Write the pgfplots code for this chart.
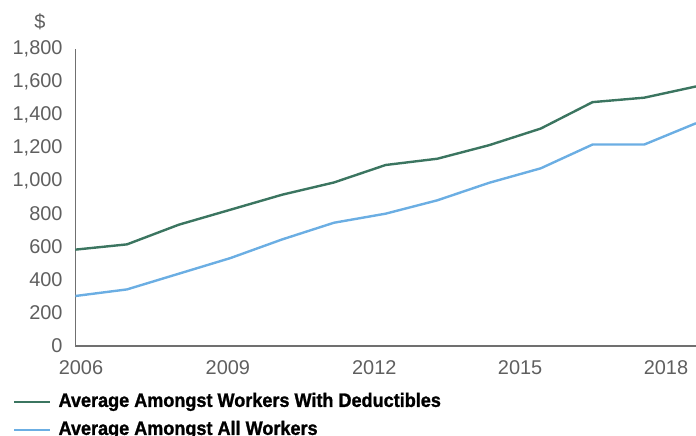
\documentclass[border=0pt]{standalone}
\usepackage{fontspec}
\setmainfont{Liberation Sans}
\newfontface\legfont[FakeStretch=0.93, FakeBold=1.2]{Liberation Sans Bold}
\usepackage{pgfplots}
\pgfplotsset{compat=1.18}
\definecolor{tickgray}{HTML}{5F5F5F}
\definecolor{axgray}{HTML}{707070}
\definecolor{dgreen}{HTML}{3B7560}
\definecolor{lblue}{HTML}{6BAEE3}
\begin{document}
\begin{tikzpicture}
\begin{axis}[
  name=ax,
  scale only axis,
  width=620.7bp, height=297bp,
  xmin=0, xmax=12, ymin=0, ymax=1800,
  axis x line*=bottom, axis y line*=left,
  axis line style={draw=axgray, line width=1.2bp},
  ytick={0,200,400,600,800,1000,1200,1400,1600,1800},
  xtick={0.11,2.95,5.78,8.6,11.42},
  xticklabels={2006,2009,2012,2015,2018},
  major tick length=0pt,
  tick label style={font=\fontsize{20}{24}\selectfont, text=tickgray},
  /pgf/number format/assume math mode=true,
  /pgf/number format/1000 sep={,},
  scaled y ticks=false,
  yticklabel style={inner sep=0pt, anchor=east, xshift=-12.6bp},
  xticklabel style={inner sep=0pt, anchor=north, yshift=-14bp},
  legend style={at={(0,0)}, anchor=north west, xshift=-62.3bp, yshift=-46.7bp,
    draw=none, fill=none, inner sep=0pt,
    nodes={inner sep=0pt, text height=14bp, text depth=4bp},
    font=\legfont\fontsize{19.5}{22}\selectfont,
    row sep=10bp, column sep=7bp},
  legend cell align=left,
  legend image code/.code={\draw[#1] (0bp,0bp) -- (36bp,0bp);},
]
\addplot[dgreen, line width=2.4bp] coordinates {
(0,584) (1,616) (2,735) (3,826) (4,917) (5,991) (6,1097) (7,1135) (8,1217) (9,1318) (10,1478) (11,1505) (12,1573)};
\addlegendentry{Average Amongst Workers With Deductibles}
\addplot[lblue, line width=2.4bp] coordinates {
(0,303) (1,343) (2,438) (3,533) (4,646) (5,747) (6,802) (7,883) (8,989) (9,1077) (10,1221) (11,1221) (12,1350)};
\addlegendentry{Average Amongst All Workers}
\end{axis}
\node[font=\fontsize{20}{24}\selectfont, text=tickgray, inner sep=0pt] at ([shift={(-35.3bp,27.3bp)}]ax.north west) {\$};
\pgfresetboundingbox
\path[use as bounding box] ([shift={(-75.3bp,-90bp)}]ax.south west) rectangle ([shift={(0bp,49bp)}]ax.north east);
\end{tikzpicture}
\end{document}
